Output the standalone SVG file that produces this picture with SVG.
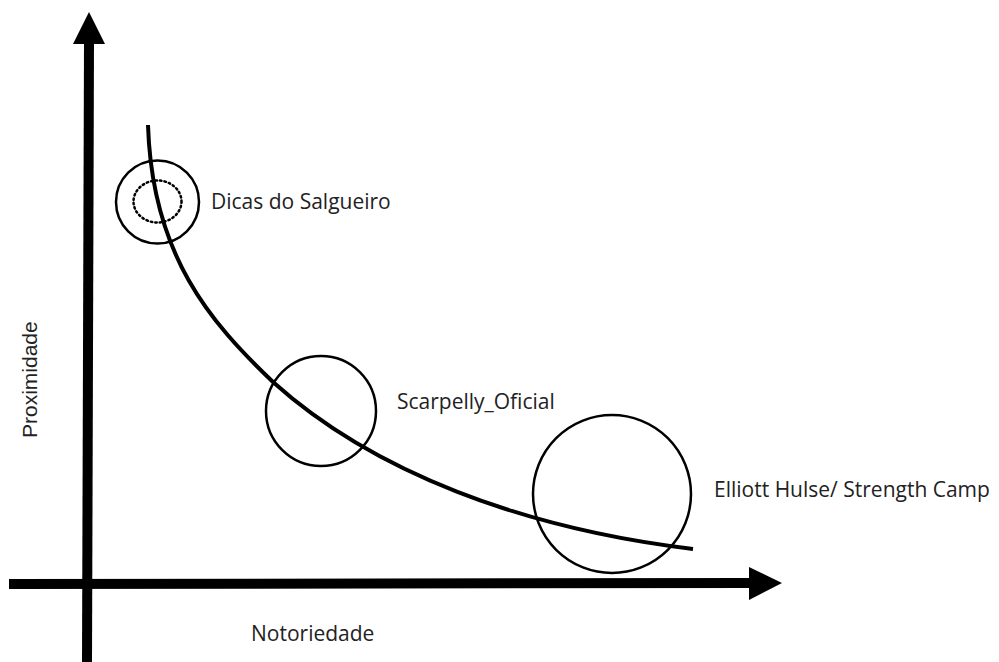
<svg xmlns="http://www.w3.org/2000/svg" width="999" height="662" viewBox="0 0 999 662">
<style>
.ax{stroke:#000;stroke-width:10;fill:none}
.ah{fill:#000}
.c{fill:none;stroke:#000;stroke-width:2.5}
.t{font-family:"Open Sans","Noto Sans",sans-serif;font-size:21px;fill:#222}
</style>
<rect width="999" height="662" fill="#fff"/>
<g id="connectors">
<line class="ax" x1="87" y1="662" x2="89" y2="42"/>
<polygon class="ah" points="89,12 105,44 73,44"/>
<line class="ax" x1="9" y1="584" x2="752" y2="583"/>
<polygon class="ah" points="782,583 749,567 749,600"/>
<path d="M148,125 C152,255 210,322 273,382 C373,472 523,528.6 693,549" fill="none" stroke="#000" stroke-width="4"/>
</g>
<g id="dicas">
<circle class="c" cx="157.5" cy="202" r="41.5"/>
<ellipse cx="157.5" cy="201.5" rx="24" ry="21" fill="none" stroke="#000" stroke-width="2.5" stroke-dasharray="1.5,3" stroke-linecap="round"/>
<text class="t" x="211" y="209">Dicas do Salgueiro</text>
</g>
<g id="scarpelly">
<circle class="c" cx="321" cy="411" r="55"/>
<text class="t" x="397" y="409">Scarpelly_Oficial</text>
</g>
<g id="elliott">
<circle class="c" cx="612" cy="494" r="79"/>
<text class="t" x="714" y="497">Elliott Hulse/ Strength Camp</text>
</g>
<g id="xlabel"><text class="t" x="251" y="641">Notoriedade</text></g>
<g id="ylabel"><text transform="translate(37,438) rotate(-90)" font-family="'Liberation Sans',Arial,sans-serif" font-size="21" fill="#222">Proximidade</text></g>
</svg>
